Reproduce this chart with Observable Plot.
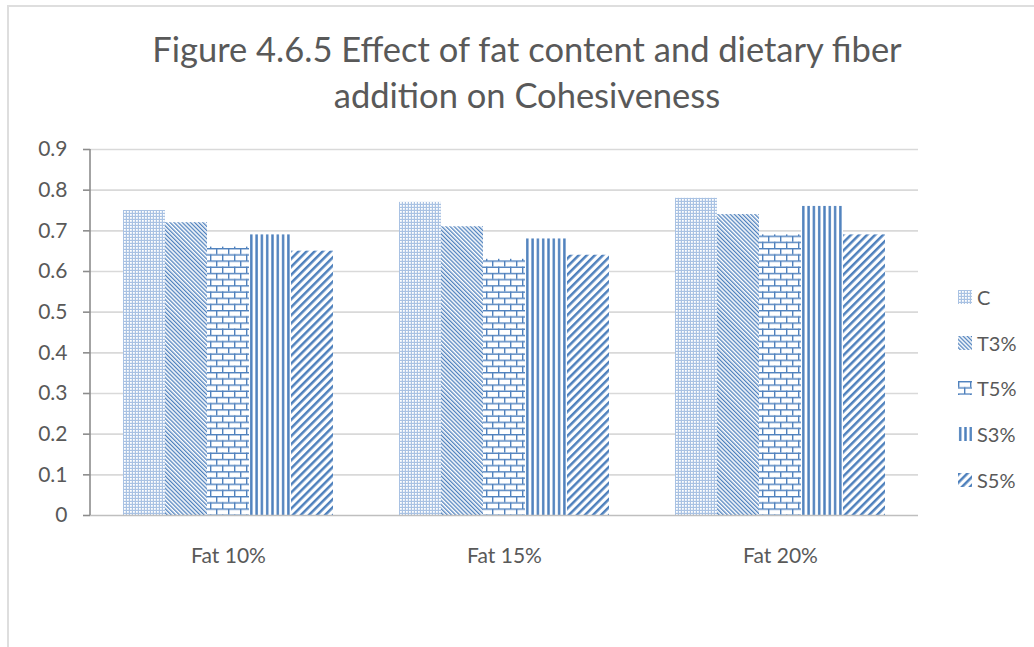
<!DOCTYPE html>
<html>
<head>
<meta charset="utf-8">
<script src="https://cdn.jsdelivr.net/npm/d3@7"></script>
<script src="https://cdn.jsdelivr.net/npm/@observablehq/plot@0.6"></script>
<style>
  html, body { margin: 0; padding: 0; background: #fff; overflow: hidden; }
  #page { position: relative; width: 1034px; height: 647px; overflow: hidden; font-family: Lato, "Open Sans", sans-serif; color: #595959; }
  #border { position: absolute; left: 7px; top: 5px; width: 1060px; height: 700px; border: 2px solid #dedede; box-sizing: border-box; }
  #title { position: absolute; left: 0; width: 1054px; top: 26px; text-align: center; font-size: 34.5px; line-height: 46px; }
  #chart { position: absolute; left: 0; top: 0; }
  #legend { position: absolute; left: 958px; top: 274px; font-size: 20px; }
  .item { display: flex; align-items: center; height: 45.8px; }
  .item svg { margin-right: 5px; }
</style>
</head>
<body>
<div id="page">
  <div id="border"></div>
  <div id="chart"></div>
  <div id="title">Figure 4.6.5 Effect of fat content and dietary fiber<br>addition on Cohesiveness</div>
  <div id="legend"></div>
</div>
<script>
// Cohesiveness by fat level (groups) and fiber treatment (series)
const groups = ["Fat 10%", "Fat 15%", "Fat 20%"];
const seriesNames = ["C", "T3%", "T5%", "S3%", "S5%"];
const valuesC  = [0.75, 0.77, 0.78];
const valuesT3 = [0.72, 0.71, 0.74];
const valuesT5 = [0.66, 0.63, 0.69];
const valuesS3 = [0.69, 0.68, 0.76];
const valuesS5 = [0.65, 0.64, 0.69];
const yTicks = [0, 0.1, 0.2, 0.3, 0.4, 0.5, 0.6, 0.7, 0.8, 0.9];

const seriesValues = [valuesC, valuesT3, valuesT5, valuesS3, valuesS5];
const rows = [];
seriesNames.forEach((s, i) => groups.forEach((g, j) => rows.push({group: g, series: s, value: seriesValues[i][j]})));

// hatch fills, one per series
const blue = "#4f81bd";
const patternIds = ["pat-c", "pat-t3", "pat-t5", "pat-s3", "pat-s5"];
const patternFills = patternIds.map(id => `url(#${id})`);

function addPatterns(svgSel) {
  const defs = svgSel.insert("defs", ":first-child");
  // fine dotted mesh
  const c = defs.append("pattern").attr("id", "pat-c").attr("patternUnits", "userSpaceOnUse").attr("width", 3).attr("height", 3);
  c.append("rect").attr("width", 3).attr("height", 3).attr("fill", "#a9c2e3");
  c.append("rect").attr("x", 1).attr("y", 1).attr("width", 1.8).attr("height", 1.8).attr("fill", "#fff");
  // dense downward diagonal
  const t3 = defs.append("pattern").attr("id", "pat-t3").attr("patternUnits", "userSpaceOnUse").attr("width", 2.9).attr("height", 4).attr("patternTransform", "rotate(-45)");
  t3.append("rect").attr("width", 2.9).attr("height", 4).attr("fill", "#fff");
  t3.append("rect").attr("width", 1.3).attr("height", 4).attr("fill", blue);
  // horizontal brick
  const t5 = defs.append("pattern").attr("id", "pat-t5").attr("patternUnits", "userSpaceOnUse").attr("width", 12).attr("height", 12.4);
  t5.append("rect").attr("width", 12).attr("height", 12.4).attr("fill", "#fff");
  t5.append("rect").attr("y", 0).attr("width", 12).attr("height", 1.4).attr("fill", blue);
  t5.append("rect").attr("y", 6.2).attr("width", 12).attr("height", 1.4).attr("fill", blue);
  t5.append("rect").attr("x", 0).attr("y", 0).attr("width", 1.4).attr("height", 6.2).attr("fill", blue);
  t5.append("rect").attr("x", 6).attr("y", 6.2).attr("width", 1.4).attr("height", 6.2).attr("fill", blue);
  // wide vertical
  const s3 = defs.append("pattern").attr("id", "pat-s3").attr("patternUnits", "userSpaceOnUse").attr("width", 5.3).attr("height", 4);
  s3.append("rect").attr("width", 5.3).attr("height", 4).attr("fill", "#fff");
  s3.append("rect").attr("x", 1).attr("width", 2.4).attr("height", 4).attr("fill", blue);
  // wide upward diagonal
  const s5 = defs.append("pattern").attr("id", "pat-s5").attr("patternUnits", "userSpaceOnUse").attr("width", 5.7).attr("height", 4).attr("patternTransform", "rotate(45)");
  s5.append("rect").attr("width", 5.7).attr("height", 4).attr("fill", "#fff");
  s5.append("rect").attr("width", 2.5).attr("height", 4).attr("fill", blue);
}

const plot = Plot.plot({
  width: 1034,
  height: 647,
  marginLeft: 90,
  marginRight: 116,
  marginTop: 149,
  marginBottom: 132,
  style: {fontFamily: "Lato, 'Open Sans', sans-serif", fontSize: "21px", color: "#595959", background: "transparent"},
  fx: {domain: groups, padding: 0, axis: "bottom", label: null, tickSize: 0, tickPadding: 33},
  x: {domain: seriesNames, paddingInner: 0, paddingOuter: 0.74, axis: null},
  y: {domain: [0, 0.9], ticks: yTicks, tickFormat: d => d === 0 ? "0" : d.toFixed(1), tickSize: 7, tickPadding: 16, label: null},
  color: {domain: seriesNames, range: patternFills},
  marks: [
    Plot.ruleY(yTicks.slice(1), {stroke: "#d9d9d9", strokeWidth: 1.6}),
    Plot.barY(rows, {fx: "group", x: "series", y: "value", fill: "series", inset: 0}),
    Plot.ruleY([0], {stroke: "#bfbfbf", strokeWidth: 1.6})
  ]
});

const svg = d3.select(plot);
addPatterns(svg);
svg.selectAll("[aria-label='y-axis tick'] path, [aria-label='y-axis tick']").attr("stroke", "#8c8c8c").attr("stroke-width", 1.6);

// vertical value axis line, placed by the y scale
const yScale = plot.scale("y");
svg.append("line")
  .attr("x1", 90).attr("x2", 90)
  .attr("y1", yScale.apply(0)).attr("y2", yScale.apply(0.9))
  .attr("stroke", "#8c8c8c").attr("stroke-width", 1.6);

document.getElementById("chart").appendChild(plot);

// legend
const legend = d3.select("#legend");
seriesNames.forEach((s, i) => {
  const item = legend.append("div").attr("class", "item");
  const sw = item.append("svg").attr("width", 14).attr("height", 14);
  sw.append("rect").attr("width", 14).attr("height", 14).attr("fill", patternFills[i]);
  item.append("span").text(s);
});
</script>
</body>
</html>
